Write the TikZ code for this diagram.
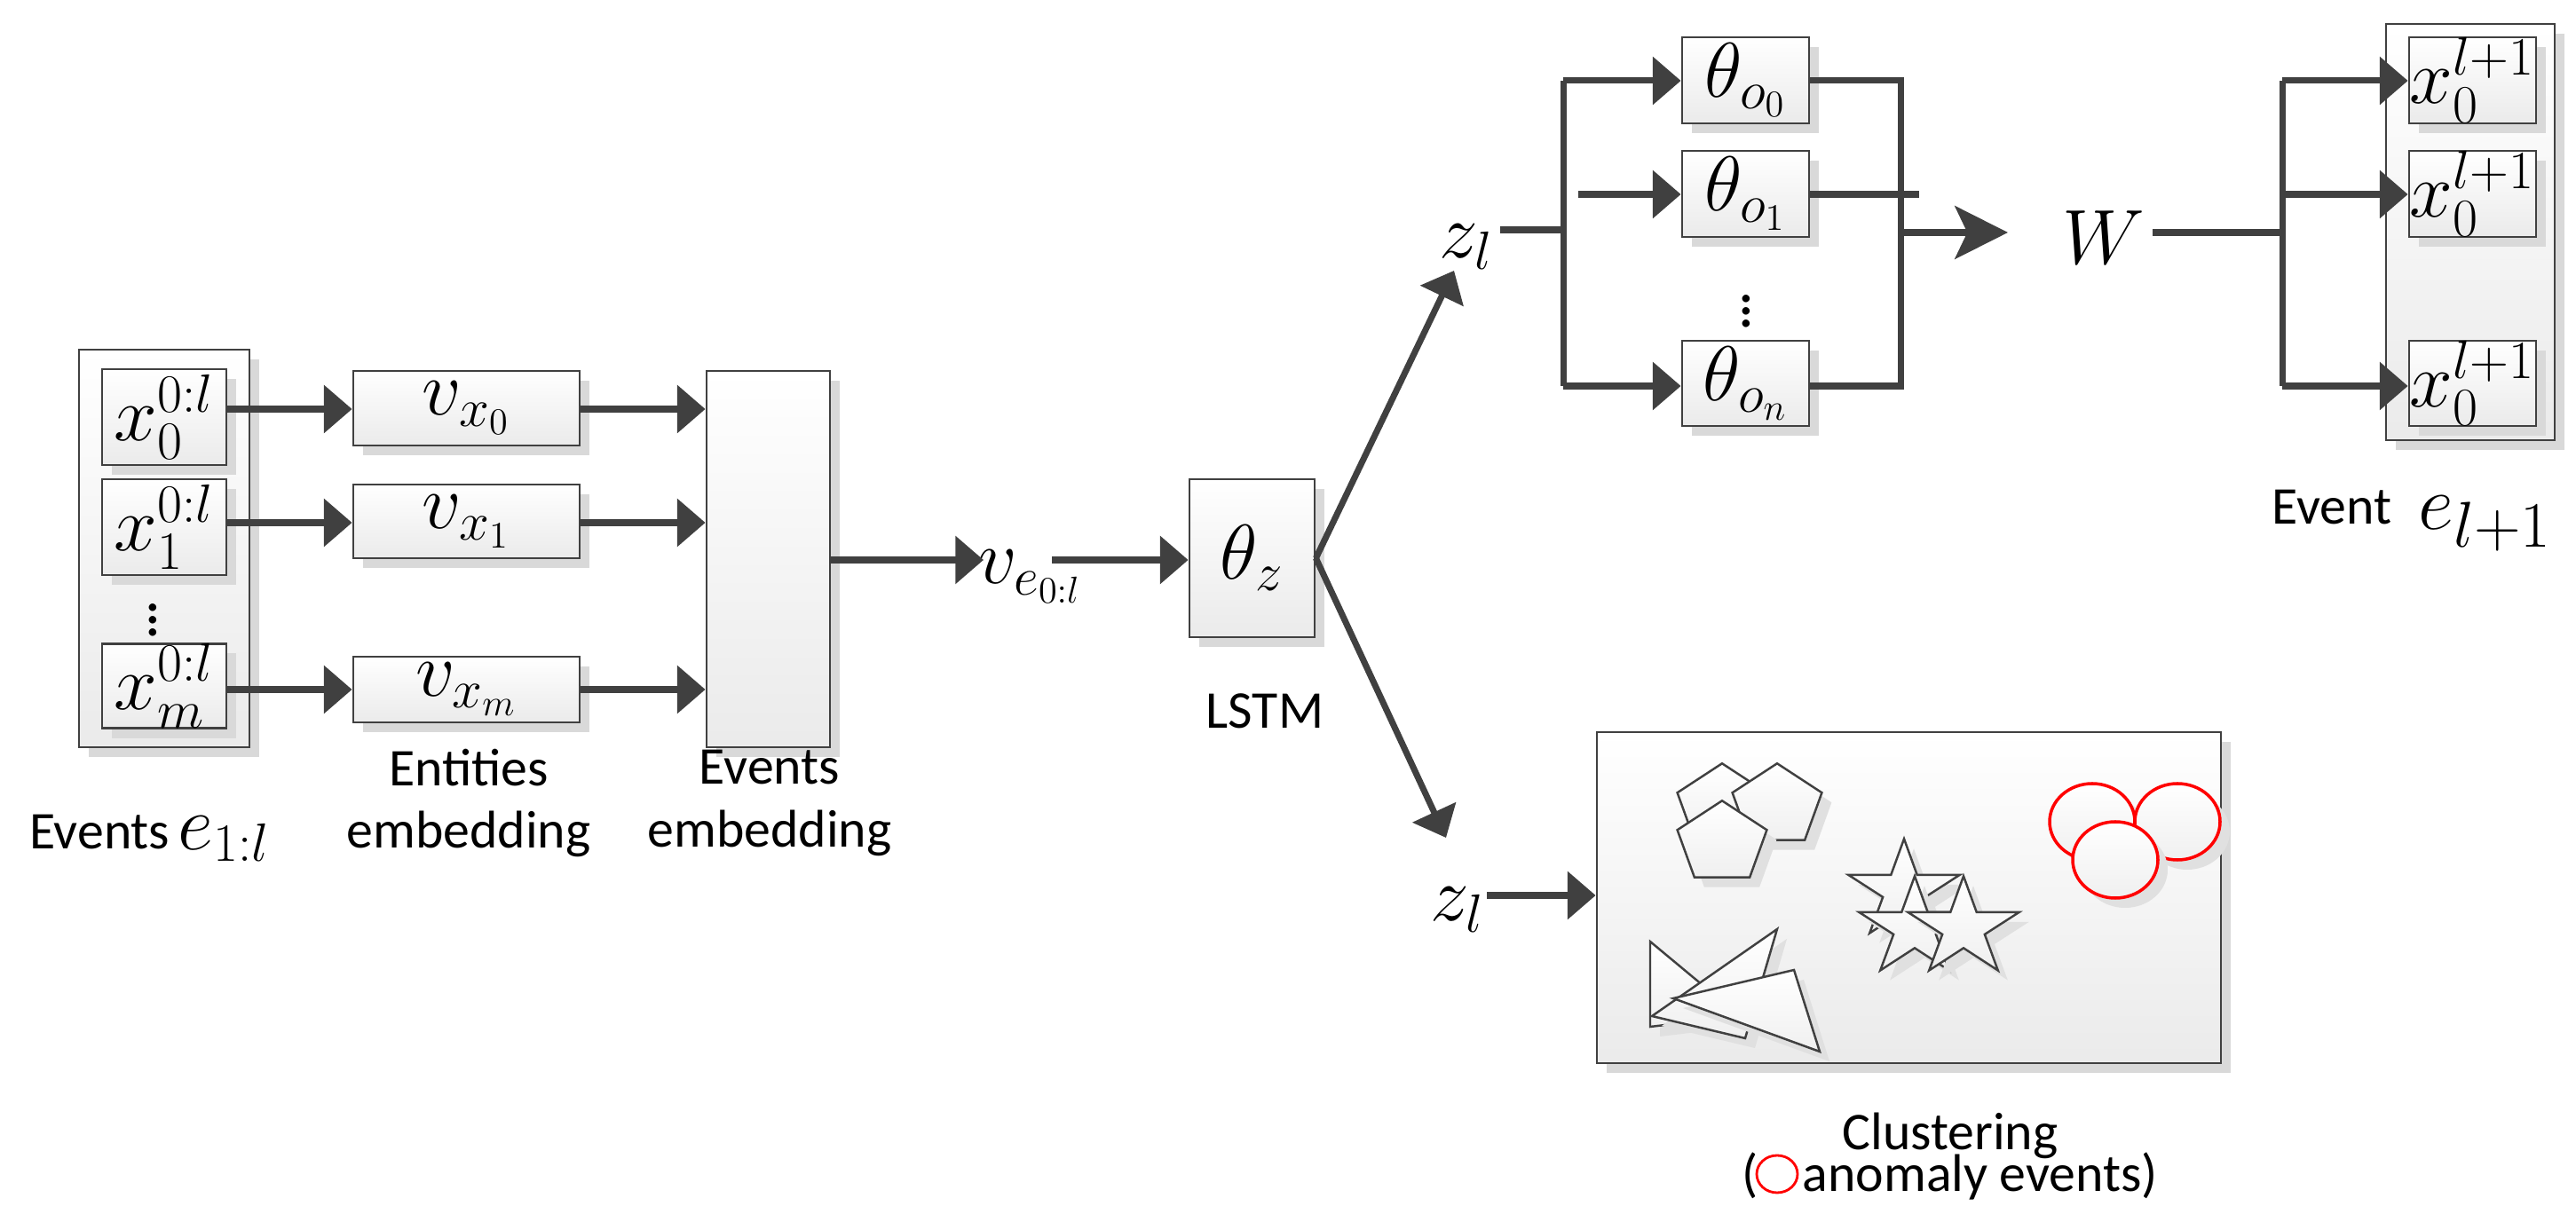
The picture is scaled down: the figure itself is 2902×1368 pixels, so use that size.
\documentclass[tikz,border=0pt]{standalone}
\usepackage{fontspec}
\setmainfont{Carlito}
\usetikzlibrary{arrows.meta,shadows}
\begin{document}
\begin{tikzpicture}[x=0.01cm,y=-0.01cm,
  box/.style={draw=black!75,line width=0.8pt,top color=white,bottom color=black!8,
     drop shadow={shadow xshift=0.11cm,shadow yshift=-0.11cm,fill=black!15,opacity=1},
     inner sep=0pt,font=\fontsize{26}{30}\selectfont},
  con/.style={draw=black!75,line width=2pt},
  arr/.style={con,-{Triangle[length=9pt,width=15pt]}},
  lab/.style={font=\fontsize{17}{20}\selectfont,align=center,inner sep=0pt},
  mth/.style={font=\fontsize{26}{30}\selectfont,inner sep=0pt},
  shp/.style={draw=black!75,line width=0.7pt,top color=white,bottom color=black!6},
  shd/.style={fill=black!12,shift={(11,11)}}]
\useasboundingbox (0,0) rectangle (2902,1368);
\newcommand\bx[6]{\node[box,minimum width={(#4-#2)*0.01cm},minimum height={(#5-#3)*0.01cm}] (#1) at ({(#2+#4)/2},{(#3+#5)/2}) {#6};}
% left group
\bx{L}{89}{394}{281}{842}{}
\bx{x0}{115}{416}{255}{524}{$x_0^{0:l}$}
\bx{x1}{115}{540}{255}{648}{$x_1^{0:l}$}
\bx{xm}{115}{726}{255}{820}{$x_m^{0:l}$}
\node[font=\fontsize{20}{20}\selectfont,inner sep=0pt] (d1) at (172,688) {$\vdots$};
\bx{v0}{398}{418}{653}{502}{$v_{x_0}$}
\bx{v1}{398}{546}{653}{629}{$v_{x_1}$}
\bx{vm}{398}{740}{653}{814}{$v_{x_m}$}
\bx{E}{796}{418}{935}{842}{}
\foreach \a/\b/\y in {x0/v0/461,x1/v1/589,xm/vm/777}{
  \draw[arr] (\a.east|-0,\y) -- (\b.west|-0,\y);
  \draw[arr] (\b.east|-0,\y) -- (E.west|-0,\y);}
\node[mth] (ve) at (1160,650) {$v_{e_{0:l}}$};
\draw[arr] (E.east|-0,631) -- (1108,631);
\bx{T}{1340}{540}{1481}{718}{$\theta_z$}
\draw[arr] (1185,631) -- (T.west|-0,631);
\node[lab] (lstm) at (1425,801) {LSTM};
\node[lab,anchor=east] (ev) at (192,938) {Events};
\node[mth,anchor=west] (ev2) at (200,945) {$e_{1:l}$};
\node[lab] (ent) at (528,905) {Entities\\embedding};
\node[lab] (eve) at (867,905) {Events\\embedding};
% upper branch
\node[mth] (z1) at (1652,278) {$z_l$};
\node[mth] (z2) at (1642,1025) {$z_l$};
\draw[arr] (T.east|-0,629) -- (1638,305);
\draw[arr] (T.east|-0,629) -- (1629,944);
\bx{o0}{1895}{42}{2038}{139}{$\theta_{o_0}$}
\bx{o1}{1895}{170}{2038}{267}{$\theta_{o_1}$}
\bx{on}{1895}{384}{2038}{480}{$\theta_{o_n}$}
\node[font=\fontsize{20}{20}\selectfont,inner sep=0pt] (d2) at (1967,340) {$\vdots$};
\coordinate (s) at (1761,259);
\draw[con] (1690,259) -- (s);
\draw[con] (1761,91) -- (1761,435);
\draw[arr] (1761,91) -- (o0.west|-0,91);
\draw[arr] (1778,219) -- (o1.west|-0,219);
\draw[arr] (1761,435) -- (on.west|-0,435);
\draw[con] (o0.east|-0,91) -- (2141,91) -- (2141,435) -- (on.east|-0,435);
\draw[con] (o1.east|-0,219) -- (2162,219);
\node[font=\fontsize{32}{36}\selectfont,inner sep=0pt] (W) at (2370,268) {$W$};
\draw[con,-{Stealth[length=17pt,width=17pt,inset=4pt]}] (2141,262) -- (2262,262);
\bx{R}{2688}{27}{2878}{496}{}
\bx{y0}{2714}{42}{2857}{139}{$x_0^{l+1}$}
\bx{y1}{2714}{170}{2857}{267}{$x_0^{l+1}$}
\bx{yn}{2714}{384}{2857}{480}{$x_0^{l+1}$}
\draw[con] (2425,262) -- (2571,262);
\draw[con] (2571,91) -- (2571,435);
\draw[arr] (2571,91) -- (y0.west|-0,91);
\draw[arr] (2571,219) -- (y1.west|-0,219);
\draw[arr] (2571,435) -- (yn.west|-0,435);
\node[lab] (evt) at (2627,572) {Event};
\node[font=\fontsize{30}{32}\selectfont,inner sep=0pt] (el) at (2800,590) {$e_{l+1}$};
% clustering
\bx{C}{1799}{825}{2502}{1198}{}
\draw[arr] (1675,1009) -- (C.west|-0,1009);
\newcommand\pent[2]{\fill[shd,shift={(#1,#2)},yscale=0.9] (-90:53) \foreach \i in {1,...,4}{ -- ({-90+72*\i}:53)} -- cycle;
 \draw[shp,shift={(#1,#2)},yscale=0.9] (-90:53) \foreach \i in {1,...,4}{ -- ({-90+72*\i}:53)} -- cycle;}
\pent{1940}{908}\pent{2002}{908}\pent{1940}{950}
\newcommand\mystar[3]{\fill[shd,shift={(#1,#2)},yscale=0.89] (-90:#3) \foreach \i in {1,...,9}{ -- ({-90+36*\i}:{ifthenelse(mod(\i,2)==0,#3,0.38*#3)})} -- cycle;
 \draw[shp,shift={(#1,#2)},yscale=0.89] (-90:#3) \foreach \i in {1,...,9}{ -- ({-90+36*\i}:{ifthenelse(mod(\i,2)==0,#3,0.38*#3)})} -- cycle;}
\mystar{2145}{1004}{66}\mystar{2157}{1046}{66}\mystar{2212}{1046}{66}
\foreach \p in {{(1859,1061)--(1859,1157)--(1960,1145)--cycle},{(2002,1047)--(1861,1145)--(1966,1170)--cycle},{(1885,1125)--(2021,1093)--(2050,1185)--cycle}}{
  \fill[shd] \p; \draw[shp] \p;}
\foreach \cx/\cy in {2357/926,2453/926,2383/969}{
  \fill[black!12] (\cx+11,\cy+11) ellipse [x radius=48,y radius=43];
  \draw[red,line width=1pt,top color=white,bottom color=black!6] (\cx,\cy) ellipse [x radius=48,y radius=43];}
\node[lab] (clu) at (2197,1280) {Clustering};
\node[lab,anchor=west] (ano1) at (1962,1325) {(};
\draw[red,line width=0.8pt] (2002,1323) ellipse [x radius=23,y radius=21];
\node[lab,anchor=west] (ano2) at (2030,1325) {anomaly events)};
\end{tikzpicture}
\end{document}
